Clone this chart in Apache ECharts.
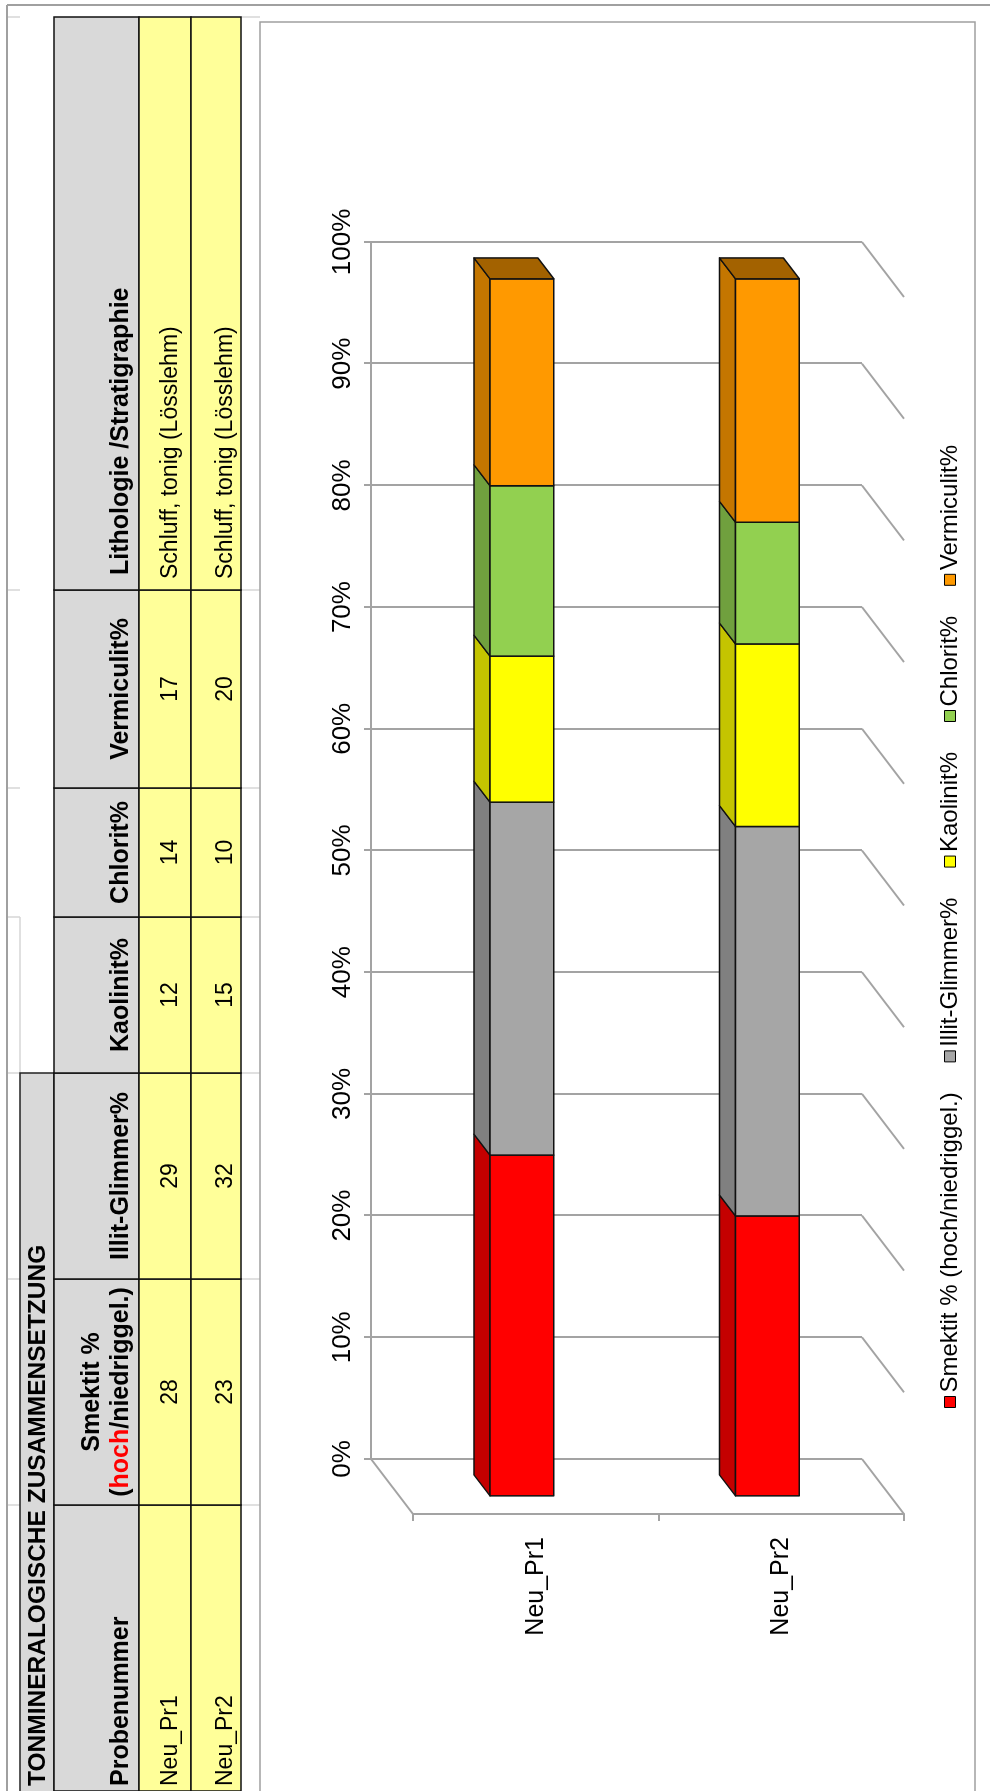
<!DOCTYPE html>
<html>
<head>
<meta charset="utf-8">
<script src="https://cdn.jsdelivr.net/npm/echarts@6/dist/echarts.min.js"></script>
<style>
  html, body { margin: 0; padding: 0; background: #fff; overflow: hidden; width: 990px; height: 1791px; }
  /* the sheet is laid out landscape and turned a quarter turn counter-clockwise */
  #sheet { position: absolute; left: 0; top: 0; width: 1791px; height: 990px;
           transform-origin: 0 0; transform: translate(0px, 1791px) rotate(-90deg); }
</style>
</head>
<body>
<div id="sheet"></div>
<script>
// ---- data ---------------------------------------------------------------
const samples = ['Neu_Pr1', 'Neu_Pr2'];
const smektit = [28, 23];
const illitGlimmer = [29, 32];
const kaolinit = [12, 15];
const chlorit = [14, 10];
const vermiculit = [17, 20];
const lithologie = ['Schluff, tonig (Lösslehm)', 'Schluff, tonig (Lösslehm)'];

const tableTitle = 'TONMINERALOGISCHE ZUSAMMENSETZUNG';
const tableHeaders = ['Probenummer', 'Smektit %', 'Illit-Glimmer%', 'Kaolinit%', 'Chlorit%', 'Vermiculit%', 'Lithologie /Stratigraphie'];
const seriesNames = ['Smektit % (hoch/niedriggel.)', 'Illit-Glimmer%', 'Kaolinit%', 'Chlorit%', 'Vermiculit%'];
const valueTicks = [0, 10, 20, 30, 40, 50, 60, 70, 80, 90, 100];

// ---- styles / layout ------------------------------------------------------
const FONT = '"Liberation Sans", Arial, sans-serif';
const seriesColors = ['#ff0000', '#a6a6a6', '#ffff00', '#92d050', '#ff9900'];
const GRID_COLOR = '#a3a3a3';
const DU = -55, DV = 42;           // depth direction of the 3D box (sheet coordinates)
const FRONT = 0.67, BACK = 0.29;   // bar depth inside the box
const WALL = { left: 332, top: 371, width: 1217, height: 491 };
const HEAD_SIZE = 25;

function shade(hex, k) {
  const n = parseInt(hex.slice(1), 16);
  const r = Math.round(((n >> 16) & 255) * k), g = Math.round(((n >> 8) & 255) * k), b = Math.round((n & 255) * k);
  return 'rgb(' + r + ',' + g + ',' + b + ')';
}

// ---- table ---------------------------------------------------------------
const colEdges = [0, 286, 512, 718, 874, 1003, 1201, 1774];
const headerAlign = ['left', 'center', 'center', 'center', 'center', 'center', 'left'];
const rows = samples.map((s, j) => [s, smektit[j], illitGlimmer[j], kaolinit[j], chlorit[j], vermiculit[j], lithologie[j]]);
const rowBands = [[139, 191, 171], [191, 241, 226]];

const graphics = [];
function line(x1, y1, x2, y2, stroke, w) {
  graphics.push({ type: 'line', silent: true, shape: { x1, y1, x2, y2 }, style: { stroke, lineWidth: w } });
}
function text(x, y, str, opt) {
  graphics.push({ type: 'text', silent: true, x, y, style: Object.assign({
    text: str, fontFamily: FONT, fontSize: 23, fill: '#000', align: 'left', verticalAlign: 'middle'
  }, opt) });
}
function textX(c, align, inset) {
  if (align === 'left') return colEdges[c] + inset;
  return (colEdges[c] + colEdges[c + 1]) / 2;
}

// outer window frame
line(0, 7, 1786, 7, '#a0a0a0', 2);
line(1786, 7, 1786, 990, '#a0a0a0', 2);
// faint cell gridlines around the table
[1774, 1201, 1003, 874, 718, 512, 286].forEach(u => {
  line(u, 8, u, 20, '#d6d6d6', 1.5);
  line(u, 241, u, 260, '#d6d6d6', 1.5);
});
line(718, 20, 874, 20, '#d6d6d6', 1.5);

// title cell
graphics.push({ type: 'rect', silent: true, shape: { x: -4, y: 20, width: 722, height: 34 },
  style: { fill: '#d9d9d9', stroke: '#222', lineWidth: 1.5 } });
text(5, 38, tableTitle, { fontWeight: 'bold', fontSize: 24.5 });

// header + rows
for (let c = 0; c < colEdges.length - 1; c++) {
  const x = colEdges[c], w = colEdges[c + 1] - colEdges[c];
  graphics.push({ type: 'rect', silent: true, shape: { x, y: 54, width: w, height: 85 },
    style: { fill: '#d9d9d9', stroke: '#111', lineWidth: 1.5 } });
  rowBands.forEach(rb => {
    graphics.push({ type: 'rect', silent: true, shape: { x, y: rb[0], width: w, height: rb[1] - rb[0] },
      style: { fill: '#ffff99', stroke: '#111', lineWidth: 1.5 } });
  });
}
tableHeaders.forEach((h, c) => {
  const inset = c === 0 ? 5 : 15;
  if (c === 1) {
    text(textX(c, 'center'), 92, h, { fontWeight: 'bold', fontSize: HEAD_SIZE, align: 'center' });
    text(textX(c, 'center'), 121, '({red|hoch}/niedriggel.)', { fontWeight: 'bold', fontSize: HEAD_SIZE, align: 'center',
      rich: { red: { fill: '#ff0000', fontWeight: 'bold', fontSize: HEAD_SIZE, fontFamily: FONT } } });
  } else {
    text(textX(c, headerAlign[c], inset), 121, h, { fontWeight: 'bold', fontSize: HEAD_SIZE, align: headerAlign[c] });
  }
});
rows.forEach((r, j) => {
  r.forEach((v, c) => {
    const inset = c === 0 ? 5 : 11;
    text(textX(c, headerAlign[c], inset), rowBands[j][2], String(v), { align: headerAlign[c] });
  });
});

// chart frame
graphics.push({ type: 'rect', silent: true, shape: { x: -4, y: 260, width: 1773, height: 715 },
  style: { fill: 'none', stroke: '#a0a0a0', lineWidth: 1.5 } });

// ---- stacked 3D bars ------------------------------------------------------
const composition = [smektit, illitGlimmer, kaolinit, chlorit, vermiculit];
const cumulative = samples.map(() => 0);
const barSeries = composition.map((vals, i) => {
  const data = vals.map((v, j) => {
    const start = cumulative[j];
    cumulative[j] += v;
    return [j, start, cumulative[j]];
  });
  const isTop = i === composition.length - 1;
  const col = seriesColors[i];
  return {
    type: 'custom', name: seriesNames[i], xAxisIndex: 0, yAxisIndex: 0, z: 3,
    itemStyle: { color: col },
    encode: { x: [1, 2], y: 0 },
    data,
    renderItem(params, api) {
      const a = api.coord([api.value(1), api.value(0)]);
      const b = api.coord([api.value(2), api.value(0)]);
      const hw = api.size([0, 1])[1] * 0.13;
      const c = a[1];
      const fu = DU * FRONT, fv = DV * FRONT, bu = DU * BACK, bv = DV * BACK;
      const edge = { stroke: '#111', lineWidth: 1.5, lineJoin: 'round' };
      const children = [
        { type: 'polygon', shape: { points: [[a[0] + bu, c - hw + bv], [b[0] + bu, c - hw + bv], [b[0] + fu, c - hw + fv], [a[0] + fu, c - hw + fv]] },
          style: Object.assign({ fill: shade(col, 0.77) }, edge) },
        { type: 'polygon', shape: { points: [[a[0] + fu, c - hw + fv], [b[0] + fu, c - hw + fv], [b[0] + fu, c + hw + fv], [a[0] + fu, c + hw + fv]] },
          style: Object.assign({ fill: col }, edge) }
      ];
      if (isTop) {
        children.push({ type: 'polygon', shape: { points: [[b[0] + bu, c - hw + bv], [b[0] + bu, c + hw + bv], [b[0] + fu, c + hw + fv], [b[0] + fu, c - hw + fv]] },
          style: Object.assign({ fill: shade(col, 0.64) }, edge) });
      }
      return { type: 'group', children };
    }
  };
});

// side wall and floor edges of the 3D box
const wallSeries = {
  type: 'custom', xAxisIndex: 0, yAxisIndex: 0, z: 1, silent: true,
  encode: { x: 0 },
  data: valueTicks.map(t => [t]),
  renderItem(params, api) {
    const cs = params.coordSys;
    const u = api.coord([api.value(0), 0])[0];
    const bottom = cs.y + cs.height;
    const st = { stroke: GRID_COLOR, lineWidth: 2 };
    const children = [{ type: 'line', shape: { x1: u, y1: bottom, x2: u + DU, y2: bottom + DV }, style: st }];
    if (params.dataIndex === 0) {
      children.push({ type: 'line', shape: { x1: u, y1: cs.y, x2: u + DU, y2: cs.y + DV }, style: st });
    }
    return { type: 'group', children };
  }
};

const chart = echarts.init(document.getElementById('sheet'), null, { width: 1791, height: 990 });
chart.setOption({
  animation: false,
  backgroundColor: '#fff',
  textStyle: { fontFamily: FONT },
  graphic: graphics,
  grid: [
    Object.assign({}, WALL),
    { left: WALL.left + DU, top: WALL.top + DV, width: WALL.width, height: WALL.height }
  ],
  legend: {
    data: seriesNames, orient: 'horizontal', left: 378, top: 933,
    icon: 'rect', itemWidth: 11, itemHeight: 11, itemGap: 30,
    itemStyle: { borderColor: '#000', borderWidth: 1 },
    textStyle: { fontFamily: FONT, fontSize: 24, color: '#000', padding: [0, 0, 0, -1] }
  },
  xAxis: [
    { type: 'value', gridIndex: 0, position: 'top', min: 0, max: 100, interval: 10,
      axisLine: { show: true, lineStyle: { color: GRID_COLOR, width: 2 } },
      axisTick: { show: true, length: 7, lineStyle: { color: GRID_COLOR, width: 2 } },
      axisLabel: { formatter: '{value}%', fontSize: 26, color: '#000', margin: 15, fontFamily: FONT },
      splitLine: { show: true, lineStyle: { color: GRID_COLOR, width: 2 } } },
    { type: 'value', gridIndex: 1, min: 0, max: 100, show: false }
  ],
  yAxis: [
    { type: 'category', gridIndex: 0, data: samples, inverse: true, show: false },
    { type: 'category', gridIndex: 1, data: samples, inverse: true, position: 'left',
      axisLine: { show: true, lineStyle: { color: GRID_COLOR, width: 2 } },
      axisTick: { show: true, length: 7, lineStyle: { color: GRID_COLOR, width: 2 } },
      axisLabel: { fontSize: 25, color: '#000', margin: 23, fontFamily: FONT },
      splitLine: { show: false } }
  ],
  series: [wallSeries].concat(barSeries)
});
</script>
</body>
</html>
